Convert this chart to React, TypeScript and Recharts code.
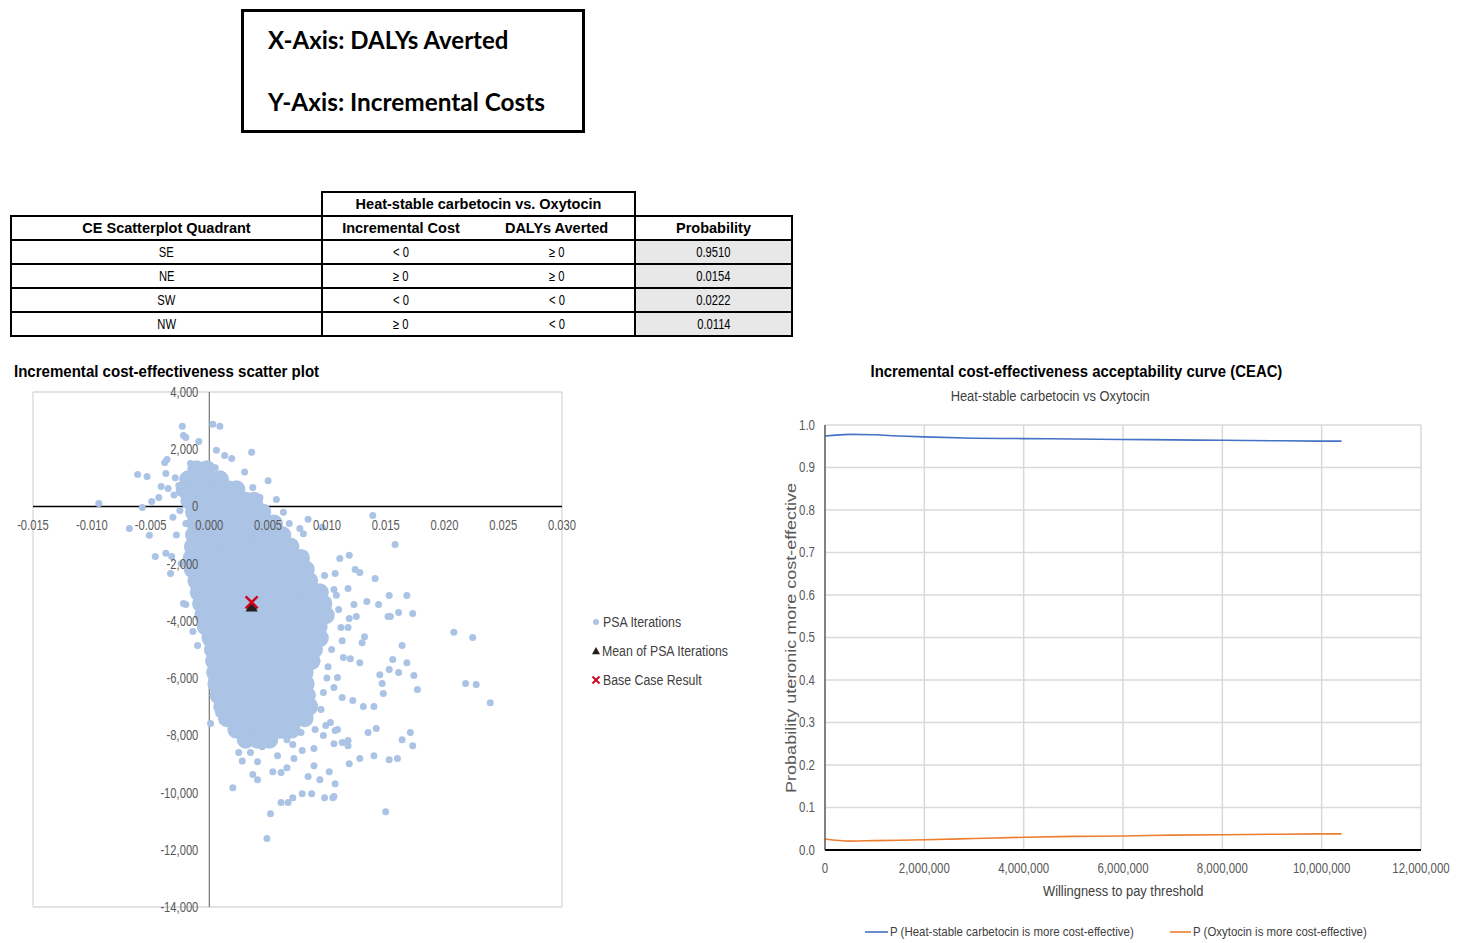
import React from 'react';
import {
  ScatterChart, Scatter, XAxis, YAxis, CartesianGrid, ReferenceLine, ReferenceDot, Legend,
  LineChart, Line,
} from 'recharts';

const ARIAL = "'Liberation Sans', Arial, sans-serif";

// ---------- table ----------
const quadrants = ['SE', 'NE', 'SW', 'NW'];
const incCostSign = ['< 0', '≥ 0', '< 0', '≥ 0'];
const dalySign = ['≥ 0', '≥ 0', '< 0', '< 0'];
const probabilities = ['0.9510', '0.0154', '0.0222', '0.0114'];

// ---------- scatter ----------
const scatterXTicks = [-0.015, -0.01, -0.005, 0, 0.005, 0.01, 0.015, 0.02, 0.025, 0.03];
const scatterYTicks = [4000, 2000, 0, -2000, -4000, -6000, -8000, -10000, -12000, -14000];

// dense core of PSA iterations: [incremental cost, list of DALYs averted]
const psaCoreRows: [number, number[]][] = [
  [1300, [-0.0011, -0.0002]],
  [950, [-0.0018, -0.0008, 0.0001, 0.0009]],
  [600, [-0.0021, -0.0012, -0.0003, 0.0007, 0.0016, 0.0023]],
  [200, [-0.0017, -0.0008, 0.0002, 0.0012, 0.0022, 0.0031, 0.0038]],
  [-200, [-0.0013, -0.0003, 0.0007, 0.0017, 0.0027, 0.0037, 0.0045]],
  [-600, [-0.0012, -0.0002, 0.0008, 0.0018, 0.0028, 0.0038, 0.0048, 0.0055]],
  [-1000, [-0.0013, -0.0004, 0.0006, 0.0016, 0.0026, 0.0036, 0.0046, 0.0056, 0.0062]],
  [-1400, [-0.0014, -0.0006, 0.0004, 0.0014, 0.0024, 0.0034, 0.0044, 0.0054, 0.0063, 0.0069]],
  [-1800, [-0.0015, -0.0007, 0.0003, 0.0013, 0.0023, 0.0033, 0.0043, 0.0053, 0.0063, 0.0072, 0.0078]],
  [-2200, [-0.0014, -0.0005, 0.0005, 0.0015, 0.0025, 0.0035, 0.0045, 0.0055, 0.0065, 0.0074, 0.0082]],
  [-2600, [-0.0011, -0.0002, 0.0008, 0.0018, 0.0028, 0.0038, 0.0048, 0.0058, 0.0068, 0.0077, 0.0085]],
  [-3000, [-0.0009, 0.0, 0.001, 0.002, 0.003, 0.004, 0.005, 0.006, 0.007, 0.008, 0.0088, 0.0094]],
  [-3400, [-0.0007, 0.0002, 0.0012, 0.0022, 0.0032, 0.0042, 0.0052, 0.0062, 0.0072, 0.0082, 0.009, 0.0097]],
  [-3800, [-0.0005, 0.0004, 0.0014, 0.0024, 0.0034, 0.0044, 0.0054, 0.0064, 0.0074, 0.0084, 0.0092, 0.0099]],
  [-4200, [-0.0003, 0.0006, 0.0016, 0.0026, 0.0036, 0.0046, 0.0056, 0.0066, 0.0076, 0.0085, 0.0093]],
  [-4600, [0.0001, 0.001, 0.002, 0.003, 0.004, 0.005, 0.006, 0.007, 0.008, 0.0088, 0.0094]],
  [-5000, [0.0003, 0.0012, 0.0022, 0.0032, 0.0042, 0.0052, 0.0062, 0.0072, 0.0081, 0.0089]],
  [-5400, [0.0004, 0.0013, 0.0023, 0.0033, 0.0043, 0.0053, 0.0063, 0.0073, 0.0081, 0.0087]],
  [-5800, [0.0005, 0.0014, 0.0024, 0.0034, 0.0044, 0.0054, 0.0064, 0.0073, 0.0081]],
  [-6200, [0.0006, 0.0015, 0.0025, 0.0035, 0.0045, 0.0055, 0.0065, 0.0074, 0.0082]],
  [-6600, [0.0008, 0.0017, 0.0027, 0.0037, 0.0047, 0.0057, 0.0067, 0.0076, 0.0083]],
  [-7000, [0.0011, 0.002, 0.003, 0.004, 0.005, 0.006, 0.007, 0.0078, 0.0085]],
  [-7400, [0.0015, 0.0024, 0.0034, 0.0044, 0.0054, 0.0064, 0.0073, 0.0081]],
  [-7800, [0.0023, 0.0032, 0.0042, 0.0052, 0.0062, 0.007]],
  [-8150, [0.0031, 0.0041, 0.0051]],
];

// scattered PSA iterations: [DALYs averted, incremental cost]
const psaOuter: [number, number][] = [
  [-0.0023, 2800], [0.0003, 2870], [0.0009, 2800], [-0.0022, 2480], [-0.002, 2410], [-0.0009, 2270],
  [0.0006, 1960], [0.0036, 1890], [0.0013, 1780], [0.0019, 1680], [-0.0036, 1640], [-0.0038, 1540],
  [-0.0016, 1500], [-0.0005, 1450], [0.0005, 1350], [-0.0061, 1120], [-0.0053, 1050], [-0.0037, 1150],
  [-0.0041, 700], [-0.0035, 630], [-0.0026, 730], [-0.0043, 310], [-0.0049, 170], [-0.0057, -35],
  [-0.0094, 100], [-0.0068, -770], [-0.0051, -1010], [-0.0031, -380], [-0.0025, -140], [-0.0037, -1640],
  [-0.0046, -1750], [-0.0032, -1750], [-0.0033, -2340], [-0.0022, -3390], [-0.002, -3430], [-0.0014, -4370],
  [-0.001, -4860], [-0.0029, 1000], [-0.003, 400], [-0.002, -600], [-0.0028, -1000], [-0.0024, -2000],
  [0.0037, 660], [0.0043, 310], [0.0057, 245], [0.0063, -200], [0.0084, -450], [0.008, -950],
  [0.0096, -730], [0.0077, -770], [0.005, 900], [0.003, 1200], [0.0068, -600], [0.0072, -1300],
  [0.0139, -315], [0.0158, -1330], [0.0119, -1710], [0.0111, -1820], [0.0124, -2200], [0.0128, -2310],
  [0.0141, -2520], [0.0107, -2340], [0.0098, -2410], [0.0118, -2870], [0.0153, -3110], [0.0168, -3110],
  [0.0134, -3320], [0.0144, -3430], [0.0123, -3430], [0.0161, -3710], [0.0173, -3740], [0.0152, -3850],
  [0.0154, -3850], [0.0125, -3850], [0.0119, -3920], [0.0112, -4230], [0.0118, -4230], [0.0132, -4550],
  [0.013, -4760], [0.0164, -4860], [0.0113, -4690], [0.012, -5320], [0.0114, -5280], [0.0128, -5460],
  [0.0156, -5350], [0.0168, -5460], [0.0153, -5700], [0.0161, -5800], [0.0145, -5880], [0.0147, -6190],
  [0.0174, -5910], [0.0177, -6400], [0.0148, -6540], [0.0131, -6990], [0.014, -6990], [0.0113, -6680],
  [0.0122, -6780], [0.0106, -6330], [0.0109, -5980], [0.0208, -4400], [0.0224, -4580], [0.0218, -6190],
  [0.0227, -6220], [0.0239, -6860], [0.0108, -3100], [0.011, -3600], [0.0106, -2900], [0.0104, -5000],
  [0.0101, -5600], [0.01, -6000], [0.0097, -6500], [0.0095, -7100],
  [0.0001, -7590], [0.0008, -7240], [0.0012, -7100], [0.002, -9830], [0.0037, -9370], [0.0041, -9550],
  [0.0035, -8600], [0.0041, -8920], [0.0058, -8710], [0.0054, -9270], [0.0061, -9300], [0.0066, -9130],
  [0.0052, -10740], [0.0049, -11610], [0.0061, -10350], [0.0067, -10350], [0.0071, -10180], [0.0079, -10040],
  [0.0087, -10040], [0.0084, -9440], [0.0094, -9550], [0.0089, -9060], [0.0079, -8530], [0.0072, -8810],
  [0.0066, -8150], [0.0071, -8320], [0.0089, -8460], [0.0098, -10180], [0.0105, -10180], [0.0106, -10140],
  [0.0102, -9270], [0.0107, -9690], [0.0097, -8010], [0.0107, -7830], [0.0106, -8290], [0.0113, -8250],
  [0.0118, -8180], [0.0118, -8360], [0.0119, -8990], [0.0128, -8810], [0.014, -8710], [0.0135, -7900],
  [0.0142, -7760], [0.015, -10670], [0.0153, -8850], [0.016, -8810], [0.0164, -8150], [0.0171, -7900],
  [0.0173, -8360], [0.0099, -7660], [0.0103, -7550], [0.0109, -7800], [0.0025, -8600], [0.0028, -8900],
  [0.0045, -8400], [0.006, -8000], [0.0078, -7900], [0.009, -7800],
];

const meanPSA: [number, number] = [0.0036, -3500];
const baseCase: [number, number] = [0.0036, -3350];

// ---------- CEAC ----------
const wtpThreshold = [0, 500000, 1000000, 1500000, 2000000, 3000000, 4000000, 5000000, 6000000, 7000000, 8000000, 9000000, 10000000, 10400000];
const pCarbetocin = [0.974, 0.978, 0.977, 0.974, 0.972, 0.969, 0.968, 0.967, 0.966, 0.965, 0.964, 0.963, 0.962, 0.962];
const pOxytocin = [0.026, 0.021, 0.022, 0.023, 0.024, 0.027, 0.03, 0.032, 0.033, 0.035, 0.036, 0.037, 0.038, 0.038];
const ceacXTicks = [0, 2000000, 4000000, 6000000, 8000000, 10000000, 12000000];
const ceacYTicks = [0, 0.1, 0.2, 0.3, 0.4, 0.5, 0.6, 0.7, 0.8, 0.9, 1.0];

const PSA_COLOR = '#abc3e5';
const BLUE = '#4472c4';
const ORANGE = '#ed7d31';
const TICK = '#595959';

const coreData = psaCoreRows.flatMap(([y, xs]) => xs.map((x) => ({ x, y })));
const outerData = psaOuter.map(([x, y]) => ({ x, y }));
const meanData = [{ x: meanPSA[0], y: meanPSA[1] }];
const baseData = [{ x: baseCase[0], y: baseCase[1] }];
const ceacData = wtpThreshold.map((w, i) => ({ w, a: pCarbetocin[i], b: pOxytocin[i] }));

const fmtX = (v: number) => v.toFixed(3);
const fmtY = (v: number) => v.toLocaleString('en-US');

// horizontally condensed SVG text (scaled around its anchor)
const SText = ({ x, y, anchor = 'middle', sx = 0.8, size = 14, fill = TICK, weight = 400, dy = '0.355em', children }: any) => (
  <text x={x} y={y} dy={dy} textAnchor={anchor} fontFamily={ARIAL} fontSize={size} fontWeight={weight} fill={fill}
    transform={`translate(${x} ${y}) scale(${sx} 1) translate(${-x} ${-y})`}>
    {children}
  </text>
);

// horizontally condensed HTML text
const HS = ({ sx, origin = 'left center', children }: any) => (
  <span style={{ display: 'inline-block', transform: `scaleX(${sx})`, transformOrigin: origin, whiteSpace: 'nowrap' }}>{children}</span>
);

const Tri = ({ cx, cy, s = 5 }: any) => (
  <polygon points={`${cx},${cy - s} ${cx - s},${cy + s * 0.8} ${cx + s},${cy + s * 0.8}`} fill="#1f1f1f" />
);
const Cross = ({ cx, cy, s = 6, w = 2.5 }: any) => (
  <g stroke="#d0021b" strokeWidth={w}>
    <line x1={cx - s} y1={cy - s} x2={cx + s} y2={cy + s} />
    <line x1={cx + s} y1={cy - s} x2={cx - s} y2={cy + s} />
  </g>
);

const ScatterLegendContent = () => {
  const row: React.CSSProperties = { display: 'flex', alignItems: 'center', height: 29, fontFamily: ARIAL, fontSize: 14, color: '#404040', whiteSpace: 'nowrap' };
  return (
    <div>
      <div style={row}>
        <svg width={14} height={12}><circle cx={7} cy={6} r={3} fill={PSA_COLOR} /></svg>
        <HS sx={0.88}>PSA Iterations</HS>
      </div>
      <div style={row}>
        <svg width={13} height={12}><Tri cx={7} cy={6} s={4} /></svg>
        <HS sx={0.88}>Mean of PSA Iterations</HS>
      </div>
      <div style={row}>
        <svg width={14} height={12}><Cross cx={7} cy={6} s={3.5} w={1.8} /></svg>
        <HS sx={0.88}>Base Case Result</HS>
      </div>
    </div>
  );
};

const CeacLegendContent = () => {
  const item: React.CSSProperties = { display: 'flex', alignItems: 'center', fontFamily: ARIAL, fontSize: 13, color: '#404040', whiteSpace: 'nowrap' };
  return (
    <div style={{ display: 'flex' }}>
      <div style={{ ...item, width: 305 }}>
        <svg width={25} height={10}><line x1={0} y1={5} x2={23} y2={5} stroke={BLUE} strokeWidth={1.6} /></svg>
        <HS sx={0.88}>P (Heat-stable carbetocin is more cost-effective)</HS>
      </div>
      <div style={item}>
        <svg width={23} height={10}><line x1={0} y1={5} x2={21} y2={5} stroke={ORANGE} strokeWidth={1.6} /></svg>
        <HS sx={0.88}>P (Oxytocin is more cost-effective)</HS>
      </div>
    </div>
  );
};

const cellBase: React.CSSProperties = {
  border: '2px solid #000', padding: 0, textAlign: 'center', height: 22, fontSize: 14.5,
};
const dataCell: React.CSSProperties = { ...cellBase, fontSize: 14 };

const yTickLabel = (v: number) => (p: any) => (
  <SText x={p.viewBox.x - 11} y={p.viewBox.y} anchor="end" sx={0.8} size={14}>{fmtY(v)}</SText>
);
const xTickLabel = (v: number) => (p: any) => (
  <SText x={p.viewBox.x} y={p.viewBox.y + 19} anchor="middle" sx={0.8} size={14}>{fmtX(v)}</SText>
);

const CeacXTick = (p: any) => (
  <SText x={p.x} y={p.y} dy="0.71em" anchor="middle" sx={0.82} size={14}>{Number(p.payload.value).toLocaleString('en-US')}</SText>
);
const CeacYTick = (p: any) => (
  <SText x={p.x} y={p.y} anchor="end" sx={0.82} size={14}>{Number(p.payload.value).toFixed(1)}</SText>
);

export default function App() {
  const abs = (l: number, t: number): React.CSSProperties => ({ position: 'absolute', left: l, top: t });
  return (
    <div style={{ position: 'absolute', left: 0, top: 0, width: 1468, height: 943, background: '#fff', overflow: 'hidden' }}>
      {/* Axis description box */}
      <div style={{ ...abs(241, 9), width: 338, height: 118, border: '3px solid #000', fontFamily: "Lato, 'Open Sans', sans-serif", fontWeight: 700, fontSize: 24, color: '#000' }}>
        <div style={{ position: 'absolute', left: 24, top: 13, whiteSpace: 'nowrap' }}>X-Axis: DALYs Averted</div>
        <div style={{ position: 'absolute', left: 24, top: 75, whiteSpace: 'nowrap' }}>
          <HS sx={1.015}>Y-Axis: Incremental Costs</HS>
        </div>
      </div>

      {/* Quadrant table */}
      <table style={{ ...abs(10, 191), borderCollapse: 'collapse', fontFamily: ARIAL, tableLayout: 'fixed', width: 781, color: '#000' }}>
        <colgroup>
          <col style={{ width: 311 }} />
          <col style={{ width: 157 }} />
          <col style={{ width: 156 }} />
          <col style={{ width: 157 }} />
        </colgroup>
        <tbody>
          <tr>
            <td style={{ ...cellBase, border: 'none' }} />
            <td colSpan={2} style={{ ...cellBase, fontWeight: 700 }}><HS sx={1} origin="center">Heat-stable carbetocin vs. Oxytocin</HS></td>
            <td style={{ ...cellBase, border: 'none' }} />
          </tr>
          <tr>
            <td style={{ ...cellBase, fontWeight: 700 }}><HS sx={1} origin="center">CE Scatterplot Quadrant</HS></td>
            <td style={{ ...cellBase, fontWeight: 700, borderRight: 'none' }}><HS sx={1} origin="center">Incremental Cost</HS></td>
            <td style={{ ...cellBase, fontWeight: 700, borderLeft: 'none' }}><HS sx={1} origin="center">DALYs Averted</HS></td>
            <td style={{ ...cellBase, fontWeight: 700 }}><HS sx={1} origin="center">Probability</HS></td>
          </tr>
          {quadrants.map((q, i) => (
            <tr key={q}>
              <td style={dataCell}><HS sx={0.8} origin="center">{q}</HS></td>
              <td style={{ ...dataCell, borderRight: 'none' }}><HS sx={0.8} origin="center">{incCostSign[i]}</HS></td>
              <td style={{ ...dataCell, borderLeft: 'none' }}><HS sx={0.8} origin="center">{dalySign[i]}</HS></td>
              <td style={{ ...dataCell, background: '#e8e8e8' }}><HS sx={0.8} origin="center">{probabilities[i]}</HS></td>
            </tr>
          ))}
        </tbody>
      </table>

      {/* Scatter title */}
      <div style={{ ...abs(14, 363), fontFamily: ARIAL, fontWeight: 700, fontSize: 16, color: '#000' }}>
        <HS sx={0.94}>Incremental cost-effectiveness scatter plot</HS>
      </div>

      {/* Scatter plot */}
      <div style={abs(0, 380)}>
        <ScatterChart width={760} height={540} margin={{ top: 12, left: 33, right: 198, bottom: 13 }}>
          <CartesianGrid stroke="#d9d9d9" strokeWidth={1.3} />
          <XAxis type="number" dataKey="x" domain={[-0.015, 0.03]} ticks={scatterXTicks} height={0} tick={false} axisLine={false} tickLine={false} allowDataOverflow />
          <YAxis type="number" dataKey="y" domain={[-14000, 4000]} ticks={scatterYTicks} width={0} tick={false} axisLine={false} tickLine={false} allowDataOverflow />
          <ReferenceLine x={0} stroke="#7f7f7f" strokeWidth={1.3} />
          <ReferenceLine y={0} stroke="#000" strokeWidth={1.6} />
          <Scatter data={coreData} fill={PSA_COLOR} isAnimationActive={false} legendType="none"
            shape={(p: any) => <circle cx={p.cx} cy={p.cy} r={9} fill={PSA_COLOR} />} />
          <Scatter data={outerData} fill={PSA_COLOR} isAnimationActive={false} legendType="none"
            shape={(p: any) => <circle cx={p.cx} cy={p.cy} r={3.5} fill={PSA_COLOR} />} />
          {scatterYTicks.map((v) => (
            <ReferenceDot key={'y' + v} x={0} y={v} r={0} stroke="none" fill="none" label={yTickLabel(v)} />
          ))}
          {scatterXTicks.map((v) => (
            <ReferenceDot key={'x' + v} x={v} y={0} r={0} stroke="none" fill="none" label={xTickLabel(v)} />
          ))}
          <Scatter data={meanData} isAnimationActive={false} legendType="none" shape={(p: any) => <Tri cx={p.cx} cy={p.cy} s={6} />} />
          <Scatter data={baseData} isAnimationActive={false} legendType="none" shape={(p: any) => <Cross cx={p.cx} cy={p.cy} s={6} w={2.5} />} />
          <Legend layout="horizontal" verticalAlign="middle" align="center"
            wrapperStyle={{ left: 589, top: 227, width: 170, height: 90 }} content={() => <ScatterLegendContent />} />
        </ScatterChart>
      </div>

      {/* CEAC titles */}
      <div style={{ ...abs(770, 363), width: 612, textAlign: 'center', fontFamily: ARIAL, fontWeight: 700, fontSize: 16, color: '#000' }}>
        <HS sx={0.93} origin="center">Incremental cost-effectiveness acceptability curve (CEAC)</HS>
      </div>
      <div style={{ ...abs(770, 388), width: 560, textAlign: 'center', fontFamily: ARIAL, fontSize: 14, color: '#404040' }}>
        <HS sx={0.92} origin="center">Heat-stable carbetocin vs Oxytocin</HS>
      </div>
      <div style={{ position: 'absolute', left: 790, top: 638, transform: 'translate(-50%, -50%) rotate(-90deg) scaleX(1.2)', fontFamily: ARIAL, fontSize: 15, color: TICK, whiteSpace: 'nowrap' }}>
        Probability uteronic more cost-effective
      </div>
      <div style={{ ...abs(825, 883), width: 596, textAlign: 'center', fontFamily: ARIAL, fontSize: 14, color: '#404040' }}>
        <HS sx={0.92} origin="center">Willingness to pay threshold</HS>
      </div>

      {/* CEAC chart */}
      <div style={abs(770, 410)}>
        <LineChart width={698} height={533} data={ceacData} margin={{ top: 15, left: 25, right: 47, bottom: 63 }}>
          <CartesianGrid stroke="#d9d9d9" strokeWidth={1.5} />
          <XAxis type="number" dataKey="w" domain={[0, 12000000]} ticks={ceacXTicks} height={30}
            axisLine={{ stroke: '#000', strokeWidth: 2 }} tickLine={false}
            tick={<CeacXTick />} tickMargin={7} interval={0} />
          <YAxis type="number" domain={[0, 1]} ticks={ceacYTicks} width={30}
            axisLine={{ stroke: '#404040', strokeWidth: 1.2 }} tickLine={false}
            tick={<CeacYTick />} tickMargin={4} interval={0} />
          <Line type="monotone" dataKey="a" stroke={BLUE} strokeWidth={1.6} dot={false} isAnimationActive={false} />
          <Line type="monotone" dataKey="b" stroke={ORANGE} strokeWidth={1.6} dot={false} isAnimationActive={false} />
          <Legend layout="horizontal" verticalAlign="middle" align="center"
            wrapperStyle={{ left: 95, top: 514, width: 600, height: 18 }} content={() => <CeacLegendContent />} />
        </LineChart>
      </div>
    </div>
  );
}
